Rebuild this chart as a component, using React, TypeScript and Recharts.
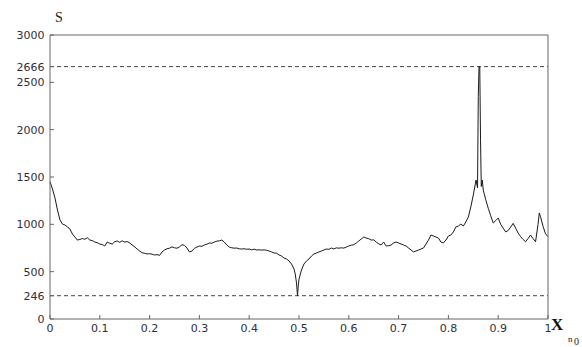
import { LineChart, Line, XAxis, YAxis, ReferenceLine } from 'recharts';

// position along the segment (x_n0) and the measured S value
const xValues = [
  0, 0.005, 0.01, 0.015, 0.02, 0.025, 0.03, 0.035, 0.04, 0.045,
  0.05, 0.055, 0.06, 0.065, 0.07, 0.075, 0.08, 0.085, 0.09, 0.095,
  0.1, 0.105, 0.11, 0.115, 0.12, 0.125, 0.13, 0.135, 0.14, 0.145,
  0.15, 0.155, 0.16, 0.165, 0.17, 0.175, 0.18, 0.185, 0.19, 0.195,
  0.2, 0.205, 0.21, 0.215, 0.22, 0.225, 0.23, 0.235, 0.24, 0.245,
  0.25, 0.255, 0.26, 0.265, 0.27, 0.275, 0.28, 0.285, 0.29, 0.295,
  0.3, 0.305, 0.31, 0.315, 0.32, 0.325, 0.33, 0.335, 0.34, 0.345,
  0.35, 0.355, 0.36, 0.365, 0.37, 0.375, 0.38, 0.385, 0.39, 0.395,
  0.4, 0.405, 0.41, 0.415, 0.42, 0.425, 0.43, 0.435, 0.44, 0.445,
  0.45, 0.455, 0.46, 0.465, 0.47, 0.475, 0.48, 0.485, 0.49, 0.4925,
  0.495, 0.497, 0.4985, 0.5, 0.505, 0.51, 0.515, 0.52, 0.525, 0.53,
  0.535, 0.54, 0.545, 0.55, 0.555, 0.56, 0.565, 0.57, 0.575, 0.58,
  0.585, 0.59, 0.595, 0.6, 0.605, 0.61, 0.615, 0.62, 0.625, 0.63,
  0.635, 0.64, 0.645, 0.65, 0.655, 0.66, 0.665, 0.67, 0.675, 0.68,
  0.685, 0.69, 0.695, 0.7, 0.705, 0.71, 0.715, 0.72, 0.725, 0.73,
  0.735, 0.74, 0.745, 0.75, 0.755, 0.76, 0.765, 0.77, 0.775, 0.78,
  0.785, 0.79, 0.795, 0.8, 0.805, 0.81, 0.815, 0.82, 0.825, 0.83,
  0.835, 0.84, 0.845, 0.85, 0.8555, 0.8585, 0.86, 0.8615, 0.863, 0.8645,
  0.866, 0.868, 0.87, 0.875, 0.88, 0.885, 0.89, 0.895, 0.9, 0.905,
  0.91, 0.915, 0.92, 0.925, 0.93, 0.935, 0.94, 0.945, 0.95, 0.955,
  0.96, 0.965, 0.97, 0.975, 0.98, 0.9825, 0.985, 0.99, 0.995, 1,
];

const sValues = [
  1450, 1373, 1278, 1151, 1046, 1003, 993, 972, 951, 898,
  866, 834, 840, 850, 842, 858, 834, 828, 813, 806,
  792, 786, 771, 813, 800, 792, 816, 824, 810, 826,
  812, 818, 803, 782, 762, 739, 718, 700, 694, 687,
  690, 684, 676, 680, 672, 708, 729, 742, 748, 762,
  752, 748, 762, 784, 778, 750, 708, 718, 746, 760,
  771, 768, 782, 790, 803, 800, 813, 822, 826, 834,
  813, 782, 760, 752, 748, 750, 741, 739, 742, 737,
  739, 730, 738, 729, 731, 728, 730, 726, 718, 708,
  697, 695, 676, 665, 644, 634, 613, 581, 528, 475,
  380, 246, 349, 422, 518, 581, 613, 634, 665, 687,
  697, 708, 718, 729, 739, 736, 750, 740, 751, 748,
  752, 749, 760, 771, 780, 784, 803, 824, 845, 866,
  855, 848, 834, 836, 813, 794, 782, 813, 771, 774,
  782, 803, 813, 803, 792, 782, 771, 750, 729, 708,
  718, 729, 739, 750, 792, 834, 887, 877, 866, 855,
  813, 803, 834, 877, 887, 919, 972, 982, 1003, 982,
  1025, 1077, 1183, 1310, 1468, 1384, 2350, 2666, 2666, 1900,
  1400, 1468, 1362, 1260, 1170, 1090, 1014, 1040, 1067, 1000,
  960, 920, 935, 970, 1010, 960, 908, 870, 840, 816,
  850, 887, 850, 816, 1000, 1120, 1080, 980, 900, 870,
];

const xTicks = [0, 0.1, 0.2, 0.3, 0.4, 0.5, 0.6, 0.7, 0.8, 0.9, 1];
const yTicks = [0, 246, 500, 1000, 1500, 2000, 2500, 2666, 3000];
const frameTicks = [0, 500, 1000, 1500, 2000, 2500, 3000];
const markedLevels = [2666, 246];

const data = xValues.map((x, i) => ({ x, s: sValues[i] }));

const tickFont = { fontSize: 11, fill: '#2e2e3e', fontFamily: 'DejaVu Sans' };
const frame = { stroke: '#666', strokeWidth: 1 };

export default function App() {
  return (
    <div style={{ position: 'absolute', left: 0, top: 0, width: 582, height: 347, background: '#fff' }}>
      <LineChart
        width={582}
        height={347}
        data={data}
        margin={{ top: 34, right: 33, bottom: 27, left: 49 }}
      >
        <XAxis
          dataKey="x"
          type="number"
          domain={[0, 1]}
          ticks={xTicks}
          interval={0}
          tickFormatter={(v) => String(v)}
          height={1}
          tickSize={-4}
          tickMargin={9.5}
          axisLine={frame}
          tickLine={frame}
          tick={tickFont}
        />
        <XAxis
          xAxisId="top"
          orientation="top"
          type="number"
          domain={[0, 1]}
          ticks={xTicks}
          interval={0}
          height={1}
          tickSize={-4}
          axisLine={frame}
          tickLine={frame}
          tick={false}
        />
        <YAxis
          type="number"
          domain={[0, 3000]}
          ticks={yTicks}
          interval={0}
          width={1}
          tickSize={-4}
          tickMargin={9.5}
          axisLine={frame}
          tickLine={frame}
          tick={tickFont}
        />
        <YAxis
          yAxisId="right"
          orientation="right"
          type="number"
          domain={[0, 3000]}
          ticks={frameTicks}
          interval={0}
          width={1}
          tickSize={-4}
          axisLine={frame}
          tickLine={frame}
          tick={false}
        />
        {markedLevels.map((level) => (
          <ReferenceLine key={level} y={level} stroke="#444" strokeDasharray="4 3" />
        ))}
        <Line
          type="linear"
          dataKey="s"
          stroke="#1a1a1a"
          strokeWidth={1}
          dot={false}
          isAnimationActive={false}
        />
      </LineChart>
      <svg
        width={582}
        height={347}
        style={{ position: 'absolute', left: 0, top: 0, pointerEvents: 'none' }}
      >
        <text x={55} y={22} fontSize={14} fontFamily="Liberation Serif" fill="#222">S</text>
        <text x={551} y={330} fontSize={17} fontWeight="bold" fontFamily="Liberation Serif" fill="#111">X</text>
        <text x={568} y={342} fontSize={9} fontFamily="Liberation Serif" fill="#222">n</text>
        <text x={574} y={345} fontSize={10} fontFamily="Liberation Serif" fill="#222">0</text>
      </svg>
    </div>
  );
}
